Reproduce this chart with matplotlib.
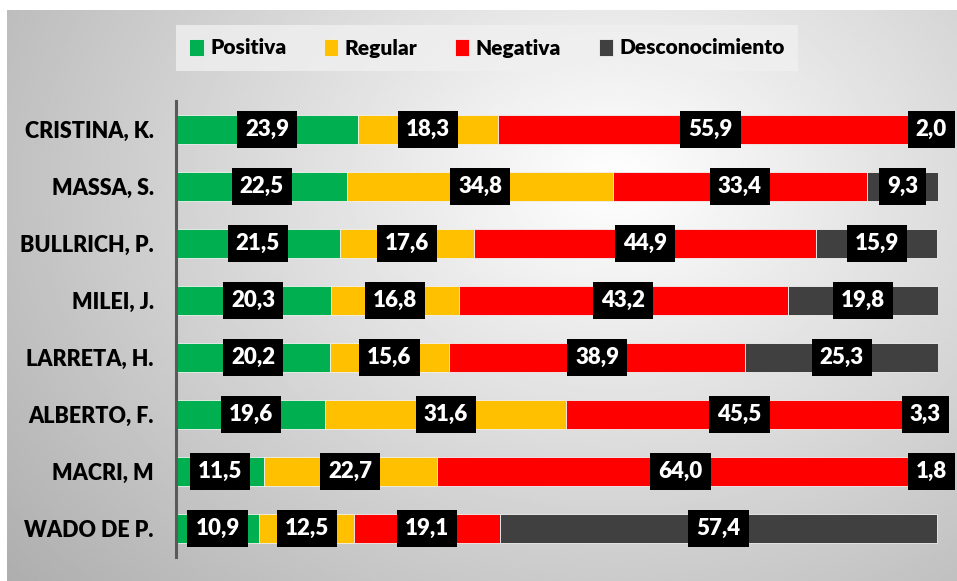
import numpy as np
import matplotlib.pyplot as plt
from matplotlib.patches import Patch

# Datos
candidatos = ['CRISTINA, K.', 'MASSA, S.', 'BULLRICH, P.', 'MILEI, J.',
              'LARRETA, H.', 'ALBERTO, F.', 'MACRI, M', 'WADO DE P.']
positiva = [23.9, 22.5, 21.5, 20.3, 20.2, 19.6, 11.5, 10.9]
regular = [18.3, 34.8, 17.6, 16.8, 15.6, 31.6, 22.7, 12.5]
negativa = [55.9, 33.4, 44.9, 43.2, 38.9, 45.5, 64.0, 19.1]
desconocimiento = [2.0, 9.3, 15.9, 19.8, 25.3, 3.3, 1.8, 57.4]

series = ['Positiva', 'Regular', 'Negativa', 'Desconocimiento']
colores = ['#00B050', '#FFC000', '#FF0000', '#404040']

plt.rcParams['font.family'] = ['Lato', 'DejaVu Sans']

fig = plt.figure(figsize=(9.57, 5.81), dpi=100)

# Fondo con degradado radial
bg = fig.add_axes([7 / 957, 0, 1 - 7 / 957, 1 - 10 / 581], zorder=0)
xx, yy = np.meshgrid(np.linspace(0, 1, 400), np.linspace(0, 1, 250))
r = np.sqrt(((xx - 0.64) / 1.0) ** 2 + ((yy - 0.30) / 1.3) ** 2)
val = np.clip(1.0 - 0.38 * r, 0, 1)
bg.imshow(val, cmap='gray', vmin=0, vmax=1, extent=[0, 1, 0, 1], aspect='auto')
bg.axis('off')

ax = fig.add_axes([176 / 957, 1 - 557 / 581, (938 - 176) / 957, 456 / 581], zorder=1)
ax.patch.set_alpha(0)

y = np.arange(len(candidatos))
datos = [positiva, regular, negativa, desconocimiento]
izq = np.zeros(len(candidatos))
for nombre, vals, col in zip(series, datos, colores):
    vals = np.array(vals)
    ax.barh(y, vals, left=izq, height=0.5, color=col, edgecolor='#f2f2f2',
            linewidth=0.6, label=nombre)
    for yi, (l, v) in enumerate(zip(izq, vals)):
        ax.text(l + v / 2, yi, f'{v:.1f}'.replace('.', ','), ha='center', va='center',
                color='white', fontsize=16, fontweight='heavy',
                bbox=dict(boxstyle='square,pad=0.36', facecolor='black', edgecolor='none'))
    izq += vals

ax.set_xlim(0, 100)
ax.set_ylim(len(candidatos) - 0.5, -0.5)
ax.set_yticks(y)
ax.set_yticklabels(candidatos, fontsize=15.5, fontweight='heavy')
ax.tick_params(axis='y', length=0, pad=16)
ax.set_xticks([])
for s in ['top', 'right', 'bottom']:
    ax.spines[s].set_visible(False)
ax.spines['left'].set_color('#595959')
ax.spines['left'].set_linewidth(2.2)

handles = [Patch(facecolor=c, edgecolor='#f2f2f2', linewidth=0.6) for c in colores]
leg = fig.legend(handles, series, loc='center', bbox_to_anchor=(487 / 957, 1 - 48 / 581),
                 ncol=4, frameon=True, fancybox=False,
                 prop={'weight': 'heavy', 'size': 15}, handlelength=0.7, handleheight=0.9,
                 handletextpad=0.3, columnspacing=1.8, borderpad=0.65)
leg.get_frame().set_facecolor('#f0f0f0')
leg.get_frame().set_edgecolor('none')
leg.get_frame().set_alpha(0.8)

plt.savefig('out.png', dpi=100)
